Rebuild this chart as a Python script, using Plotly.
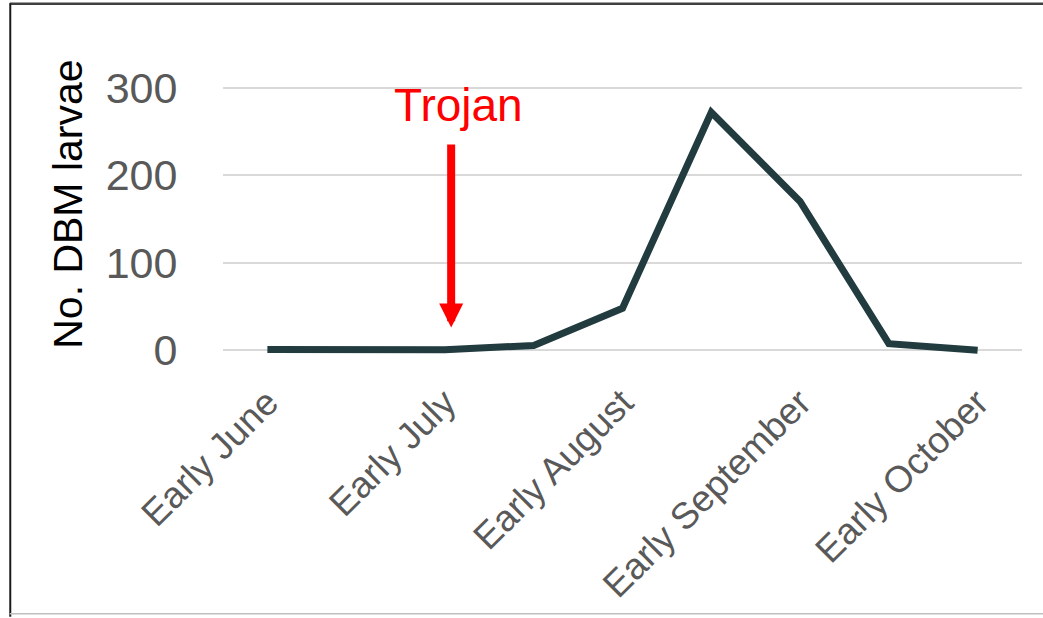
import plotly.graph_objects as go

# Larval counts sampled twice a month, early June to early October
sample_index = [0, 1, 2, 3, 4, 5, 6, 7, 8]
larvae_counts = [1, 0.5, 0.5, 5.5, 48, 272, 170, 7.5, 0]

tick_positions = [0, 2, 4, 6, 8]
tick_labels = ["Early June", "Early July", "Early August", "Early September", "Early October"]
y_ticks = [0, 100, 200, 300]
y_title = "No. DBM larvae"

# Trojan release marker
release_x = 2.07
release_label = "Trojan"

W, H = 1043, 618
plot_left, plot_right = 222.5, 1022.5
px_per_unit = 0.88
y_zero_px = 352
y_lo, y_hi = -10, 310
top_px = y_zero_px - (y_hi * px_per_unit)
bottom_px = y_zero_px - (y_lo * px_per_unit)

FONT = "Liberation Sans, Arial, sans-serif"

fig = go.Figure()
fig.add_trace(go.Scatter(
    x=sample_index, y=larvae_counts, mode="lines",
    line=dict(color="#213B3F", width=7),
    hoverinfo="skip", showlegend=False,
))

fig.update_layout(
    width=W, height=H,
    margin=dict(l=plot_left, r=W - plot_right, t=top_px, b=H - bottom_px, pad=0),
    paper_bgcolor="white", plot_bgcolor="white",
    font=dict(family=FONT),
    xaxis=dict(
        range=[-0.5, 8.5], tickmode="array", tickvals=tick_positions, ticktext=tick_labels,
        tickangle=-45, tickfont=dict(size=37, color="#595959"),
        showgrid=False, zeroline=False, showline=False,
        ticks="outside", ticklen=6, tickcolor="rgba(0,0,0,0)",
    ),
    yaxis=dict(
        range=[y_lo, y_hi], tickmode="array", tickvals=y_ticks,
        tickfont=dict(size=43, color="#595959"),
        showgrid=True, gridcolor="#D9D9D9", gridwidth=1.5,
        zeroline=False, showline=False, ticks="outside", ticklen=36, tickcolor="rgba(0,0,0,0)",
    ),
)

# Outer-frame helpers: convert canvas pixels to paper coordinates
def px_x(p):
    return (p - plot_left) / (plot_right - plot_left)

def px_y(p):
    return (bottom_px - p) / (bottom_px - top_px)

# Vertical axis title
fig.add_annotation(
    x=px_x(67), y=px_y(205), xref="paper", yref="paper", text=y_title, textangle=-90,
    showarrow=False, font=dict(size=41, color="black"), xanchor="center", yanchor="middle",
)

# Release arrow and label
fig.add_annotation(
    x=release_x, y=26, ax=release_x, ay=237, xref="x", yref="y", axref="x", ayref="y",
    showarrow=True, arrowhead=2, arrowwidth=8, arrowsize=0.6, arrowcolor="#FF0000", text="",
)
fig.add_annotation(
    x=2.15, y=280, xref="x", yref="y", text=release_label, showarrow=False,
    font=dict(size=46, color="#FF0000"),
)

fig.add_shape(type="line", xref="paper", yref="paper", x0=px_x(9), x1=px_x(1050),
              y0=px_y(3.5), y1=px_y(3.5), line=dict(color="#404040", width=2.5))
fig.add_shape(type="line", xref="paper", yref="paper", x0=px_x(9.5), x1=px_x(9.5),
              y0=px_y(3), y1=px_y(620), line=dict(color="#1a1a1a", width=2))
fig.add_shape(type="line", xref="paper", yref="paper", x0=px_x(9), x1=px_x(1050),
              y0=px_y(617), y1=px_y(617), line=dict(color="#BFBFBF", width=1.5))

fig.write_html("out.html")
